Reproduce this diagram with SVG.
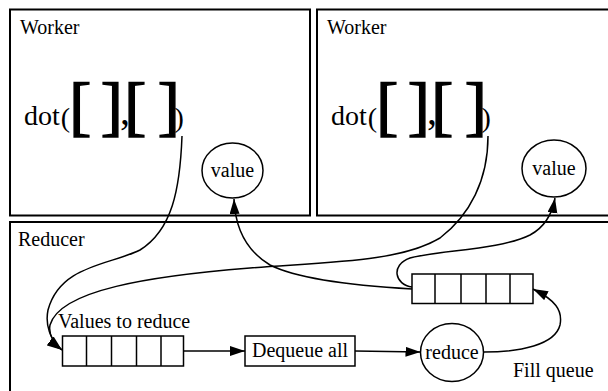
<svg xmlns="http://www.w3.org/2000/svg" width="608" height="391" viewBox="0 0 608 391" font-family="Liberation Serif, Tinos, Times New Roman, Noto Serif, DejaVu Serif, serif">
<style>
.box{fill:#fff;stroke:#000;stroke-width:2}
.q{fill:#fff;stroke:#000;stroke-width:1.5}
.t{font-size:20px;fill:#000}
.c{fill:none;stroke:#000;stroke-width:1.5}
.big{font-size:66px;fill:#000;stroke:#000;stroke-width:1.5}
.par{font-size:28px;fill:#000}
</style>
<defs>
<marker id="ah" markerUnits="userSpaceOnUse" markerWidth="16" markerHeight="11" refX="15" refY="5" orient="auto">
<path d="M0,0 L15,5 L0,10 z" fill="#000"/>
</marker>
<g id="dotexpr" font-family="Liberation Serif, Tinos, Times New Roman, Noto Serif, DejaVu Serif, serif">
<text class="par" x="24" y="125" font-size="27">dot</text>
<text class="par" x="60.7" y="127">(</text>
<text class="big" x="69.2" y="127.7">[</text>
<text class="big" x="100.8" y="127.7">]</text>
<text class="par" x="120" y="124" font-size="40" style="font-size:40px">,</text>
<text class="big" x="124.2" y="127.7">[</text>
<text class="big" x="157.8" y="127.7">]</text>
<text class="par" x="174.5" y="127">)</text>
</g>
</defs>
<rect width="608" height="391" fill="#fff"/>
<g id="worker1">
<rect class="box" x="10" y="9.5" width="300" height="206"/>
<text class="t" x="20" y="34" font-family="Liberation Serif, serif">Worker</text>
<use href="#dotexpr"/>
</g>
<g id="worker2">
<rect class="box" x="317" y="9.5" width="300" height="206"/>
<text class="t" x="327" y="34" font-family="Liberation Serif, serif">Worker</text>
<use href="#dotexpr" transform="translate(307,0)"/>
</g>
<g id="reducer">
<rect class="box" x="10" y="222" width="610" height="180"/>
<text class="t" x="18" y="246" font-family="Liberation Serif, serif">Reducer</text>
</g>
<g id="value1">
<ellipse class="q" cx="232.5" cy="170.5" rx="30.5" ry="27.5"/>
<text class="t" x="232.5" y="177" text-anchor="middle" font-family="Liberation Serif, serif">value</text>
</g>
<g id="value2">
<ellipse class="q" cx="554" cy="168.5" rx="32" ry="28.5"/>
<text class="t" x="554" y="175" text-anchor="middle" font-family="Liberation Serif, serif">value</text>
</g>
<g id="queue1">
<text class="t" x="58" y="328" font-family="Liberation Serif, serif">Values to reduce</text>
<rect class="q" x="62.5" y="336" width="121" height="30"/>
<path class="c" d="M86.5,336V366M111.5,336V366M136.5,336V366M161,336V366"/>
</g>
<g id="dequeue">
<rect class="q" x="245" y="336" width="110" height="30"/>
<text class="t" x="300" y="357" text-anchor="middle" font-family="Liberation Serif, serif">Dequeue all</text>
</g>
<g id="reduce">
<ellipse class="q" cx="452" cy="352.5" rx="31.5" ry="29"/>
<text class="t" x="452" y="359" text-anchor="middle" font-family="Liberation Serif, serif">reduce</text>
</g>
<g id="queue2">
<rect class="q" x="412" y="274" width="121" height="29.5"/>
<path class="c" d="M435,274V303.5M461,274V303.5M486,274V303.5M510,274V303.5"/>
<text class="t" x="513" y="377" font-family="Liberation Serif, serif">Fill queue</text>
</g>
<g id="connectors">
<path class="c" marker-end="url(#ah)" d="M182,136 C180,190 172,230 140,250 C110,265 60,265 48,310 C45,325 50,340 62,350"/>
<path class="c" marker-end="url(#ah)" d="M488,136 C488,180 470,215 440,238 C400,262 330,262 250,268 C150,276 60,290 50,325 C48,335 55,345 62,350"/>
<path class="c" marker-end="url(#ah)" d="M412,289 C360,286 300,280 270,265 C245,250 235,225 234,199"/>
<path class="c" marker-end="url(#ah)" d="M412,287 C395,285 390,265 410,258 C440,250 500,250 530,235 C545,227 552,215 555,198"/>
<path class="c" marker-end="url(#ah)" d="M183.5,351 L245,351"/>
<path class="c" marker-end="url(#ah)" d="M355,351 L420.5,352"/>
<path class="c" marker-end="url(#ah)" d="M484,352 C520,352 555,345 560,325 C563,310 555,300 533,289"/>
</g>
</svg>
